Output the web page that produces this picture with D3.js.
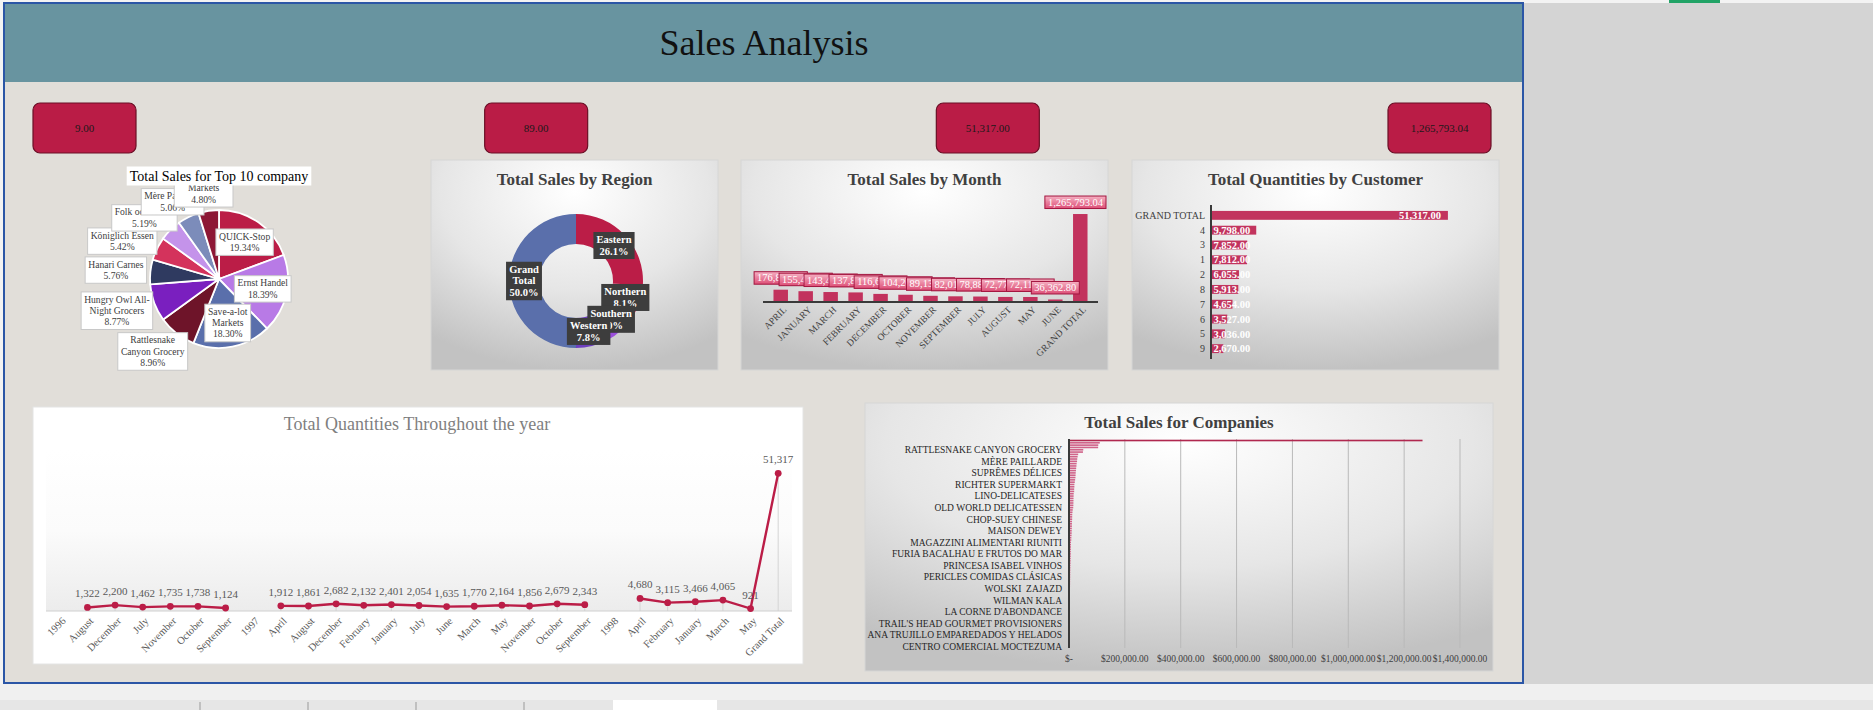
<!DOCTYPE html>
<html>
<head>
<meta charset="utf-8">
<script src="https://cdn.jsdelivr.net/npm/d3@7"></script>
<style>
  html, body { margin: 0; padding: 0; background: #d4d4d4; overflow: hidden; }
  svg { display: block; font-family: "Liberation Serif", "Times New Roman", serif; }
</style>
</head>
<body>
<svg id="dash" width="1873" height="710"></svg>
<script>
// ---- data ----
var kpiValues = ['9.00', '89.00', '51,317.00', '1,265,793.04'];

var top10Names = ['QUICK-Stop', 'Ernst Handel', 'Save-a-lot\nMarkets', 'Rattlesnake\nCanyon Grocery',
  'Hungry Owl All-\nNight Grocers', 'Hanari Carnes', 'Königlich Essen', 'Folk och fä HB',
  'Mère Paillarde', 'White Clover\nMarkets'];
var top10Sales = [110277.31, 104874.98, 104361.95, 51097.80, 49979.91, 32841.37, 30908.38, 29567.56, 28872.19, 27363.61];

var regionNames = ['Eastern', 'Northern', 'Southern', 'Western', 'Grand Total'];
var regionSales = [660300, 204900, 202800, 197793.04, 1265793.04];

var monthNames = ['APRIL', 'JANUARY', 'MARCH', 'FEBRUARY', 'DECEMBER', 'OCTOBER', 'NOVEMBER',
  'SEPTEMBER', 'JULY', 'AUGUST', 'MAY', 'JUNE', 'GRAND TOTAL'];
var monthSales = [176831.63, 155480.18, 143401.38, 137898.92, 116638.06, 104264.95, 89133.86,
  82010.64, 78882.76, 72772.95, 72114.92, 36362.80, 1265793.04];

var custIds = ['GRAND TOTAL', '4', '3', '1', '2', '8', '7', '6', '5', '9'];
var custQty = [51317, 9798, 7852, 7812, 6055, 5913, 4654, 3527, 3036, 2670];

var periodLabels = ['1996', 'August', 'December', 'July', 'November', 'October', 'September',
  '1997', 'April', 'August', 'December', 'February', 'January', 'July', 'June', 'March', 'May',
  'November', 'October', 'September', '1998', 'April', 'February', 'January', 'March', 'May', 'Grand Total'];
var periodQty = [null, 1322, 2200, 1462, 1735, 1738, 1124,
  null, 1912, 1861, 2682, 2132, 2401, 2054, 1635, 1770, 2164, 1856, 2679, 2343,
  null, 4680, 3115, 3466, 4065, 921, 51317];

var companyNames = ['Grand Total', 'QUICK-Stop', 'Ernst Handel', 'Save-a-lot Markets', 'Rattlesnake Canyon Grocery',
  'Hungry Owl All-Night Grocers', 'Hanari Carnes', 'Königlich Essen', 'Folk och fä HB', 'Mère Paillarde',
  'White Clover Markets', 'Frankenversand', 'Queen Cozinha', 'Berglunds snabbköp', 'Suprêmes délices',
  'HILARION-Abastos', 'Piccolo und mehr', "Bon app'", 'Bottom-Dollar Markets', 'Richter Supermarkt',
  'Lehmanns Marktstand', 'Blondel père et fils', 'Great Lakes Food Market', 'Simons bistro', 'LINO-Delicateses',
  'Seven Seas Imports', 'LILA-Supermercado', 'Vaffeljernet', 'Wartian Herkku', 'Old World Delicatessen',
  'Around the Horn', 'Ottilies Käseladen', 'Folies gourmandes', 'Split Rail Beer & Ale', 'Chop-suey Chinese',
  'Tortuga Restaurante', 'Tradição Hipermercados', 'Reggiani Caseifici', 'Familia Arquibaldo', 'Maison Dewey',
  'Island Trading', 'Victuailles en stock', 'Gourmet Lanchonetes', "La maison d'Asie", 'Magazzini Alimentari Riuniti',
  'Ricardo Adocicados', 'Santé Gourmet', 'Toms Spezialitäten', 'Drachenblut Delikatessen', 'Furia Bacalhau e Frutos do Mar',
  'Antonio Moreno Taquería', 'Rancho grande', 'Die Wandernde Kuh', 'Que Delícia', 'Princesa Isabel Vinhos',
  'Hungry Coyote Import Store', 'Romero y tomillo', 'Eastern Connection', 'Vins et alcools Chevalier', 'Pericles Comidas clásicas',
  'Alfreds Futterkiste', 'Blauer See Delikatessen', 'Godos Cocina Típica', 'Comércio Mineiro', 'Wolski  Zajazd',
  "B's Beverages", 'The Big Cheese', 'Franchi S.p.A.', 'Cactus Comidas para llevar', 'Wilman Kala',
  'Bólido Comidas preparadas', 'Galería del gastrónomo', 'France restauration', 'Morgenstern Gesundkost', "La corne d'abondance",
  'GROSELLA-Restaurante', 'Consolidated Holdings', 'The Cracker Box', 'Du monde entier', "Trail's Head Gourmet Provisioners",
  'Océano Atlántico Ltda.', "Let's Stop N Shop", 'Lonesome Pine Restaurant', 'Spécialités du monde', 'Ana Trujillo Emparedados y helados',
  'Wellington Importadora', 'North/South', 'Laughing Bacchus Wine Cellars', 'Lazy K Kountry Store', 'Centro comercial Moctezuma'];
var companySales = [1265793.04, 110277.31, 104874.98, 104361.95, 51097.80,
  49979.91, 32841.37, 30908.38, 29567.56, 28872.19,
  27363.61, 26656.56, 25717.50, 24927.58, 24088.78,
  23611.58, 23128.86, 21963.25, 20801.60, 19343.78,
  19261.41, 18534.08, 18507.45, 16817.10, 16476.56,
  16215.33, 16076.60, 15843.93, 15648.70, 15177.46,
  13390.65, 12496.20, 11666.90, 11441.63, 11299.00,
  10812.15, 10528.00, 10400.00, 10100.00, 9736.08,
  9600.00, 9180.00, 8414.14, 8200.00, 7176.22,
  7048.24, 6900.00, 6700.00, 6550.00, 6427.42,
  6200.00, 6000.00, 5800.00, 5600.00, 5300.00,
  5050.00, 4900.00, 4750.00, 4600.00, 4480.00,
  4273.00, 4150.00, 4000.00, 3800.00, 3531.95,
  3450.00, 3361.00, 3300.00, 3250.00, 3161.35,
  3100.00, 2950.00, 2800.00, 2500.00, 1992.05,
  1900.00, 1800.00, 1750.00, 1615.00, 1571.20,
  1550.00, 1500.00, 1470.00, 1440.00, 1402.95,
  1200.00, 649.00, 522.50, 357.00, 100.80];
var companyTicks = [0, 200000, 400000, 600000, 800000, 1000000, 1200000, 1400000];

// ---- palette ----
var crimson = '#bb1d47';
var pieColors = ['#bb1d47', '#b87ae6', '#5a6fab', '#6e1429', '#7a1fbf', '#2f3a60', '#d4335c', '#c493ea', '#7c8cba', '#8d1735'];
var regionColors = ['#bb1d47', '#c21f4e', '#9b4fdc', '#6e3fbf', '#5a6fab'];
var serifTitle = '#404040';

var svg = d3.select('#dash');
var defs = svg.append('defs');

var pg = defs.append('radialGradient').attr('id', 'panelGrad')
    .attr('cx', '50%').attr('cy', '15%').attr('r', '85%');
pg.append('stop').attr('offset', '0%').attr('stop-color', '#ffffff');
pg.append('stop').attr('offset', '55%').attr('stop-color', '#e6e6e6');
pg.append('stop').attr('offset', '100%').attr('stop-color', '#c2c2c2');

var lg = defs.append('linearGradient').attr('id', 'plotGrad')
    .attr('x1', 0).attr('y1', 0).attr('x2', 0).attr('y2', 1);
lg.append('stop').attr('offset', '0%').attr('stop-color', '#ffffff');
lg.append('stop').attr('offset', '50%').attr('stop-color', '#fbfbfb');
lg.append('stop').attr('offset', '100%').attr('stop-color', '#ececec');

var bg = defs.append('linearGradient').attr('id', 'pinkBox')
    .attr('x1', 0).attr('y1', 0).attr('x2', 0).attr('y2', 1);
bg.append('stop').attr('offset', '0%').attr('stop-color', '#f5b0c2');
bg.append('stop').attr('offset', '100%').attr('stop-color', '#dd4f77');

// ---- page background ----
svg.append('rect').attr('width', 1873).attr('height', 710).attr('fill', '#d4d4d4');
svg.append('rect').attr('x', 0).attr('y', 0).attr('width', 1873).attr('height', 3).attr('fill', '#f3f3f3');
svg.append('rect').attr('x', 1669).attr('y', 0).attr('width', 51).attr('height', 3).attr('fill', '#21a366');
svg.append('rect').attr('x', 0).attr('y', 684).attr('width', 1873).attr('height', 26).attr('fill', '#f0f0f0');
svg.append('rect').attr('x', 0).attr('y', 700).attr('width', 1873).attr('height', 10).attr('fill', '#e6e6e6');
svg.append('rect').attr('x', 613).attr('y', 700).attr('width', 104).attr('height', 10).attr('fill', '#ffffff');
[200, 308, 416, 524].forEach(function (x) {
  svg.append('line').attr('x1', x).attr('x2', x).attr('y1', 702).attr('y2', 710).attr('stroke', '#9a9a9a');
});
svg.append('rect').attr('x', 0).attr('y', 3).attr('width', 4).attr('height', 681).attr('fill', '#f3f3f3');

svg.append('rect').attr('x', 4).attr('y', 3).attr('width', 1519).attr('height', 680)
    .attr('fill', '#e1ded9').attr('stroke', '#2b56a6').attr('stroke-width', 2);
svg.append('rect').attr('x', 5).attr('y', 4).attr('width', 1517).attr('height', 78).attr('fill', '#6894a0');
svg.append('text').attr('x', 764).attr('y', 55).attr('text-anchor', 'middle')
    .attr('font-size', 36).attr('fill', '#111').text('Sales Analysis');

// ---- KPI cards ----
var kpiX = d3.scalePoint().domain(d3.range(kpiValues.length)).range([33, 1388]);
var kpi = svg.selectAll('g.kpi').data(kpiValues).enter().append('g')
    .attr('class', 'kpi')
    .attr('transform', function (d, i) { return 'translate(' + kpiX(i) + ',103)'; });
kpi.append('rect').attr('width', 103).attr('height', 50).attr('rx', 7)
    .attr('fill', '#ba1c46').attr('stroke', '#6a0f26').attr('stroke-width', 1.2);
kpi.append('text').attr('x', 51.5).attr('y', 29).attr('text-anchor', 'middle')
    .attr('font-size', 11).attr('fill', '#1a1a1a').text(function (d) { return d; });

function panel(x, y, w, h, fill) {
  var g = svg.append('g').attr('transform', 'translate(' + x + ',' + y + ')');
  g.append('rect').attr('width', w).attr('height', h).attr('fill', fill || 'url(#panelGrad)')
      .attr('stroke', '#d6d6d6').attr('stroke-width', 1);
  return g;
}

// label box drawn round 0,0; returns group plus its size so the caller can place it
function boxLabel(g, lines, opt) {
  var lh = opt.lineHeight;
  var grp = g.append('g');
  var rect = grp.append('rect');
  var t = grp.append('text').attr('text-anchor', 'middle').attr('font-size', opt.size)
      .attr('font-weight', opt.weight || 'normal').attr('fill', opt.color);
  lines.forEach(function (l, i) {
    t.append('tspan').attr('x', 0).attr('y', -(lines.length - 1) * lh / 2 + i * lh + opt.size * 0.33).text(l);
  });
  var bb = t.node().getBBox();
  var w = bb.width + 6, h = lines.length * lh + 4;
  rect.attr('x', -w / 2).attr('y', -h / 2).attr('width', w).attr('height', h)
      .attr('fill', opt.fill).attr('stroke', opt.stroke || 'none').attr('stroke-width', 1);
  return { g: grp, w: w, h: h };
}

// ---- Top 10 pie ----
(function () {
  var cx = 219, cy = 279, R = 69;
  var g = svg.append('g').attr('transform', 'translate(' + cx + ',' + cy + ')');
  var total = d3.sum(top10Sales);
  var arcs = d3.pie().sort(null).value(function (d) { return d; })(top10Sales);
  var arc = d3.arc().innerRadius(0).outerRadius(R);
  g.selectAll('path').data(arcs).enter().append('path')
      .attr('d', arc)
      .attr('fill', function (d, i) { return pieColors[i]; })
      .attr('stroke', '#ffffff').attr('stroke-width', 1.8);
  var pct = d3.format('.2%');
  arcs.forEach(function (d, i) {
    var share = d.value / total;
    var a = (d.startAngle + d.endAngle) / 2;
    var sx = Math.sin(a), sy = -Math.cos(a);
    var lines = top10Names[i].split('\n').concat([pct(share)]);
    var b = boxLabel(g, lines, { size: 9.6, lineHeight: 11.2, color: '#404040', fill: '#ffffff', stroke: '#c8c8c8' });
    var px, py;
    if (share > 0.15) {
      // big slices: label inside the slice
      px = sx * R * 0.65; py = sy * R * 0.65;
    } else {
      // outside end: box pushed out from a point just beyond the rim
      px = sx * (R + 4) + sx * b.w / 2;
      py = sy * (R + 4) + sy * b.h / 2;
    }
    b.g.attr('transform', 'translate(' + px + ',' + py + ')');
  });
  var title = boxLabel(svg, ['Total Sales for Top 10 company'],
      { size: 14, lineHeight: 15, color: '#000000', fill: '#ffffff' });
  title.g.attr('transform', 'translate(' + cx + ',176)');
})();

// ---- Sales by Region donut ----
(function () {
  var p = panel(431, 160, 287, 210);
  p.append('text').attr('x', 143.5).attr('y', 25).attr('text-anchor', 'middle')
      .attr('font-size', 17).attr('font-weight', 'bold').attr('fill', serifTitle).text('Total Sales by Region');
  var g = svg.append('g').attr('transform', 'translate(576,281)');
  var total = d3.sum(regionSales);
  var arcs = d3.pie().sort(null).value(function (d) { return d; })(regionSales);
  var arc = d3.arc().innerRadius(37).outerRadius(67);
  g.selectAll('path').data(arcs).enter().append('path')
      .attr('d', arc).attr('fill', function (d, i) { return regionColors[i]; });
  var labelArc = d3.arc().innerRadius(52).outerRadius(52);
  var pct = d3.format('.1%');
  arcs.forEach(function (d, i) {
    var c = labelArc.centroid(d);
    var lines = regionNames[i].split(' ').concat([pct(d.value / total)]);
    var b = boxLabel(g, lines, { size: 10.5, lineHeight: 11.5, color: '#ffffff', weight: 'bold', fill: '#3d3d3d' });
    b.g.attr('transform', 'translate(' + c[0] + ',' + c[1] + ')');
  });
})();

// ---- Sales by Month bars ----
(function () {
  var p = panel(741, 160, 367, 210);
  p.append('text').attr('x', 183.5).attr('y', 25).attr('text-anchor', 'middle')
      .attr('font-size', 17).attr('font-weight', 'bold').attr('fill', serifTitle).text('Total Sales by Month');
  var x = d3.scaleBand().domain(monthNames).range([763, 1098]).padding(0.42);
  var y = d3.scaleLinear().domain([0, 1400000]).range([302, 204.7]);
  svg.selectAll('rect.mbar').data(monthSales).enter().append('rect').attr('class', 'mbar')
      .attr('x', function (d, i) { return x(monthNames[i]); })
      .attr('y', function (d) { return y(d); })
      .attr('width', x.bandwidth())
      .attr('height', function (d) { return 302 - y(d); })
      .attr('fill', '#c2325d');
  svg.append('line').attr('x1', 763).attr('x2', 1098).attr('y1', 302).attr('y2', 302)
      .attr('stroke', '#3a3a3a').attr('stroke-width', 1.8);
  var fmt = d3.format(',.2f');
  monthSales.forEach(function (d, i) {
    var cx = x(monthNames[i]) + x.bandwidth() / 2;
    var g = svg.append('g');
    var t = g.append('text').attr('text-anchor', 'middle').attr('font-size', 10.5)
        .attr('fill', '#ffffff').attr('y', y(d) - 8.5).text(fmt(d));
    var w = t.node().getComputedTextLength() + 6;
    var left = Math.min(cx - w / 2, 1106 - w);
    t.attr('x', left + w / 2);
    g.insert('rect', 'text').attr('x', left).attr('y', y(d) - 18).attr('width', w).attr('height', 12.5)
        .attr('fill', 'url(#pinkBox)').attr('stroke', '#a3153f').attr('stroke-width', 1);
  });
  svg.selectAll('text.mlab').data(monthNames).enter().append('text').attr('class', 'mlab')
      .attr('transform', function (d) { return 'translate(' + (x(d) + x.bandwidth() / 2 + 4) + ',308) rotate(-45)'; })
      .attr('text-anchor', 'end').attr('dy', '0.35em').attr('font-size', 9.5).attr('fill', '#404040')
      .text(function (d) { return d; });
})();

// ---- Quantities by Customer bars ----
(function () {
  var p = panel(1132, 160, 367, 210);
  p.append('text').attr('x', 183.5).attr('y', 25).attr('text-anchor', 'middle')
      .attr('font-size', 17).attr('font-weight', 'bold').attr('fill', serifTitle).text('Total Quantities by Customer');
  var y = d3.scaleBand().domain(custIds).range([205, 359]).padding(0.4);
  var x = d3.scaleLinear().domain([0, 60000]).range([1211, 1488]);
  svg.selectAll('rect.cbar').data(custQty).enter().append('rect').attr('class', 'cbar')
      .attr('x', 1211).attr('y', function (d, i) { return y(custIds[i]); })
      .attr('width', function (d) { return x(d) - 1211; }).attr('height', y.bandwidth())
      .attr('fill', '#c2345e');
  svg.append('line').attr('x1', 1211).attr('x2', 1211).attr('y1', 205).attr('y2', 359)
      .attr('stroke', '#3a3a3a').attr('stroke-width', 2);
  svg.selectAll('text.cid').data(custIds).enter().append('text').attr('class', 'cid')
      .attr('x', 1205).attr('y', function (d) { return y(d) + y.bandwidth() / 2; })
      .attr('dy', '0.35em').attr('text-anchor', 'end').attr('font-size', 10).attr('fill', '#404040')
      .text(function (d) { return d; });
  var fmt = d3.format(',.2f');
  var minRight = x(custQty[1]) - 6;
  svg.selectAll('text.cval').data(custQty).enter().append('text').attr('class', 'cval')
      .attr('x', function (d) { return Math.max(x(d) - 7, minRight); })
      .attr('y', function (d, i) { return y(custIds[i]) + y.bandwidth() / 2; })
      .attr('dy', '0.35em').attr('text-anchor', 'end').attr('font-size', 10.5).attr('font-weight', 'bold')
      .attr('fill', '#ffffff').text(function (d) { return fmt(d); });
})();

// ---- Quantities throughout the year line ----
(function () {
  var p = panel(33, 407, 770, 257, '#ffffff');
  p.select('rect').attr('stroke', '#e4e4e4');
  p.append('text').attr('x', 384).attr('y', 23).attr('text-anchor', 'middle')
      .attr('font-size', 18).attr('fill', '#7f7f7f').text('Total Quantities Throughout the year');
  var x = d3.scaleBand().domain(d3.range(periodLabels.length)).range([46, 792]);
  var y = d3.scaleLinear().domain([0, 60000]).range([611, 450]);
  svg.append('rect').attr('x', 46).attr('y', 450).attr('width', 746).attr('height', 161).attr('fill', 'url(#plotGrad)');
  var cxOf = function (i) { return x(i) + x.bandwidth() / 2; };
  var pts = periodQty.map(function (v, i) { return { i: i, v: v }; });
  svg.selectAll('line.drop').data(pts.filter(function (d) { return d.v != null; })).enter().append('line')
      .attr('class', 'drop')
      .attr('x1', function (d) { return cxOf(d.i); }).attr('x2', function (d) { return cxOf(d.i); })
      .attr('y1', function (d) { return y(d.v); }).attr('y2', 611)
      .attr('stroke', '#d4d4d4').attr('stroke-width', 1);
  svg.append('line').attr('x1', 46).attr('x2', 792).attr('y1', 611).attr('y2', 611)
      .attr('stroke', '#d0d0d0').attr('stroke-width', 1.2);
  var line = d3.line().defined(function (d) { return d.v != null; })
      .x(function (d) { return cxOf(d.i); }).y(function (d) { return y(d.v); });
  svg.append('path').datum(pts).attr('d', line).attr('fill', 'none')
      .attr('stroke', crimson).attr('stroke-width', 2.4);
  var real = pts.filter(function (d) { return d.v != null; });
  svg.selectAll('circle.pt').data(real).enter().append('circle').attr('class', 'pt')
      .attr('cx', function (d) { return cxOf(d.i); }).attr('cy', function (d) { return y(d.v); })
      .attr('r', 3.4).attr('fill', crimson);
  svg.selectAll('text.pv').data(real).enter().append('text').attr('class', 'pv')
      .attr('x', function (d) { return cxOf(d.i); }).attr('y', function (d) { return y(d.v) - 10; })
      .attr('text-anchor', 'middle').attr('font-size', 11).attr('fill', '#595959')
      .text(function (d) { return d3.format(',')(d.v); });
  svg.selectAll('text.pl').data(periodLabels).enter().append('text').attr('class', 'pl')
      .attr('transform', function (d, i) { return 'translate(' + (cxOf(i) + 4) + ',619) rotate(-45)'; })
      .attr('text-anchor', 'end').attr('dy', '0.35em').attr('font-size', 10.5).attr('fill', '#595959')
      .text(function (d) { return d; });
})();

// ---- Sales for Companies bars ----
(function () {
  var p = panel(865, 403, 628, 268);
  p.append('text').attr('x', 314).attr('y', 25).attr('text-anchor', 'middle')
      .attr('font-size', 17).attr('font-weight', 'bold').attr('fill', serifTitle).text('Total Sales for Companies');
  var y = d3.scaleBand().domain(d3.range(companyNames.length)).range([439, 648]).padding(0.3);
  var x = d3.scaleLinear().domain([0, 1400000]).range([1069, 1460]);
  svg.selectAll('line.grid').data(companyTicks.slice(1)).enter().append('line').attr('class', 'grid')
      .attr('x1', function (d) { return x(d); }).attr('x2', function (d) { return x(d); })
      .attr('y1', 439).attr('y2', 648).attr('stroke', '#b9b9b9').attr('stroke-width', 1);
  svg.selectAll('rect.cobar').data(companySales).enter().append('rect').attr('class', 'cobar')
      .attr('x', 1069).attr('y', function (d, i) { return y(i); })
      .attr('width', function (d) { return x(d) - 1069; }).attr('height', y.bandwidth())
      .attr('fill', function (d, i) { return i === 0 ? '#b0284f' : '#d0648a'; });
  svg.append('line').attr('x1', 1069).attr('x2', 1069).attr('y1', 439).attr('y2', 648)
      .attr('stroke', '#3a3a3a').attr('stroke-width', 2);
  var money = function (v) { return v === 0 ? '$-' : '$' + d3.format(',.2f')(v); };
  svg.selectAll('text.ct').data(companyTicks).enter().append('text').attr('class', 'ct')
      .attr('x', function (d) { return x(d); }).attr('y', 662)
      .attr('text-anchor', 'middle').attr('font-size', 9.5).attr('fill', '#404040')
      .text(money);
  var shown = d3.range(companyNames.length).filter(function (i) { return i % 5 === 4; });
  svg.selectAll('text.cn').data(shown).enter().append('text').attr('class', 'cn')
      .attr('x', 1062).attr('y', function (i) { return y(i) + y.bandwidth() / 2; })
      .attr('dy', '0.35em').attr('text-anchor', 'end').attr('font-size', 9.5).attr('fill', '#262626')
      .style('white-space', 'pre')
      .text(function (i) { return companyNames[i].toUpperCase(); });
})();
</script>
</body>
</html>
